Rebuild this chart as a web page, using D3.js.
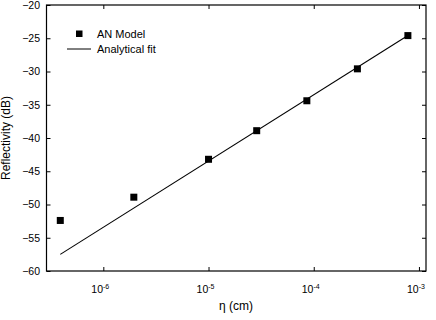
<!DOCTYPE html>
<html><head><meta charset="utf-8">
<script src="https://cdn.jsdelivr.net/npm/d3@7"></script>
<style>body{margin:0;background:#fff}svg{display:block;font-family:"Liberation Sans",Arial,sans-serif}</style>
</head><body>
<svg id="c" width="436" height="320"></svg>
<script>
const modelEta = [3.9e-7, 1.95e-6, 1.0e-5, 2.87e-5, 8.6e-5, 2.6e-4, 7.85e-4];
const modelR   = [-52.4, -48.9, -43.2, -38.9, -34.4, -29.6, -24.6];
const fitEta = [3.9e-7, 7.85e-4];
const fitR   = [-57.5, -24.6];
const xTicks = [1e-6, 1e-5, 1e-4, 1e-3];
const xTickExp = ["-6", "-5", "-4", "-3"];
const yTicks = [-60, -55, -50, -45, -40, -35, -30, -25, -20];

const svg = d3.select("#c");
const L = 46.5, R = 426, T = 5, B = 271;
const x = d3.scaleLog().domain([Math.pow(10, -6.54), Math.pow(10, -2.933)]).range([L, R]);
const y = d3.scaleLinear().domain([-60, -20]).range([B, T]);

// frame
svg.append("rect").attr("x", L).attr("y", T).attr("width", R - L).attr("height", B - T)
  .attr("fill", "none").attr("stroke", "#000").attr("stroke-width", 1.2);

// y axis ticks inward
const yAxis = svg.append("g").attr("transform", `translate(${L},0)`)
  .call(d3.axisLeft(y).tickValues(yTicks).tickSizeInner(-4).tickSizeOuter(0).tickPadding(6.5).tickFormat(d3.format("d")));
yAxis.select(".domain").remove();
yAxis.selectAll("text").attr("font-size", 10.5).attr("fill", "#000").attr("font-family", "Liberation Sans, Arial, sans-serif");
const yAxisR = svg.append("g").attr("transform", `translate(${R},0)`)
  .call(d3.axisRight(y).tickValues(yTicks).tickSizeInner(-4).tickSizeOuter(0).tickFormat(""));
yAxisR.select(".domain").remove();

// x axis ticks inward
const xAxis = svg.append("g").attr("transform", `translate(0,${B})`)
  .call(d3.axisBottom(x).tickValues(xTicks).tickSizeInner(-4).tickSizeOuter(0).tickFormat(""));
xAxis.select(".domain").remove();
const xAxisT = svg.append("g").attr("transform", `translate(0,${T})`)
  .call(d3.axisTop(x).tickValues(xTicks).tickSizeInner(-4).tickSizeOuter(0).tickFormat(""));
xAxisT.select(".domain").remove();

const xl = svg.append("g").selectAll("text").data(xTicks).join("text")
  .attr("x", d => x(d) - 3).attr("y", B + 22)
  .attr("text-anchor", "middle").attr("font-size", 10.5);
xl.append("tspan").text("10");
xl.append("tspan").attr("dy", -4).attr("font-size", 7).text((d, i) => xTickExp[i]);

// axis titles
svg.append("text").attr("x", 236).attr("y", 310).attr("text-anchor", "middle")
  .attr("font-size", 12).text("η (cm)");
svg.append("text").attr("transform", `translate(10,${(T + B) / 2}) rotate(-90)`)
  .attr("text-anchor", "middle").attr("font-size", 12).text("Reflectivity (dB)");

// fit line
svg.append("path").datum(fitEta.map((d, i) => [d, fitR[i]]))
  .attr("d", d3.line().x(d => x(d[0])).y(d => y(d[1])))
  .attr("fill", "none").attr("stroke", "#000").attr("stroke-width", 1.1);

// model squares
svg.append("g").selectAll("rect").data(modelEta).join("rect")
  .attr("x", d => x(d) - 3.5).attr("y", (d, i) => y(modelR[i]) - 3.5)
  .attr("width", 7).attr("height", 7).attr("fill", "#000");

// legend
svg.append("rect").attr("x", 76).attr("y", 30.5).attr("width", 6.5).attr("height", 6.5).attr("fill", "#000");
svg.append("text").attr("x", 97).attr("y", 38).attr("font-size", 11).text("AN Model");
svg.append("line").attr("x1", 67).attr("x2", 91).attr("y1", 49).attr("y2", 49).attr("stroke", "#000").attr("stroke-width", 1);
svg.append("text").attr("x", 97).attr("y", 53).attr("font-size", 11).text("Analytical fit");
</script>
</body></html>
